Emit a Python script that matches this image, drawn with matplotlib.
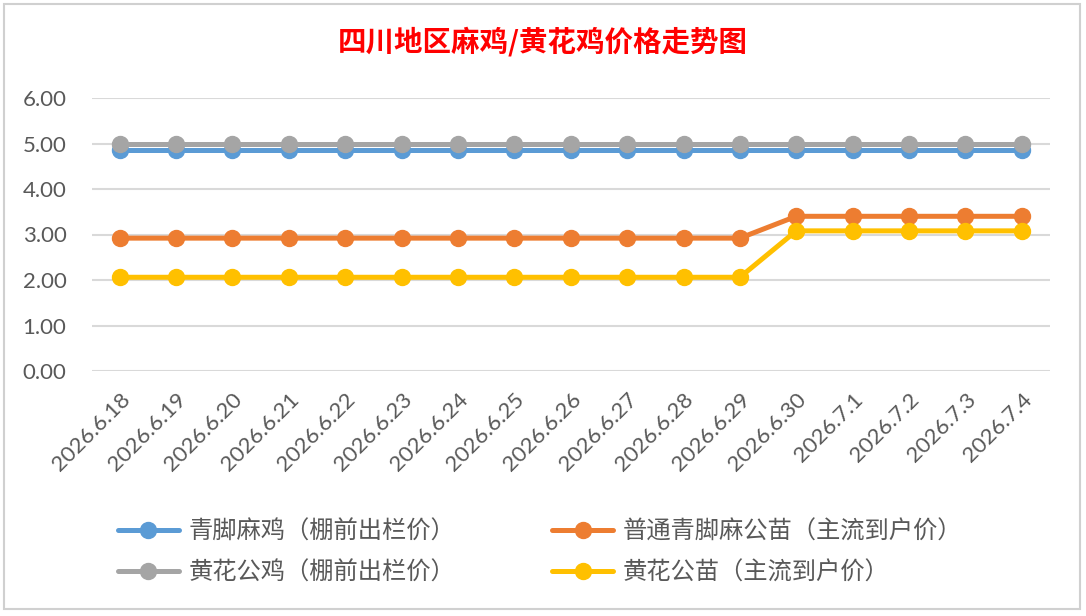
import matplotlib
matplotlib.use("Agg")
import matplotlib.pyplot as plt
from matplotlib.patches import Rectangle

dates = ["2026.6.18", "2026.6.19", "2026.6.20", "2026.6.21", "2026.6.22", "2026.6.23",
         "2026.6.24", "2026.6.25", "2026.6.26", "2026.6.27", "2026.6.28", "2026.6.29",
         "2026.6.30", "2026.7.1", "2026.7.2", "2026.7.3", "2026.7.4"]

qingjiao_ma = [4.85] * 17
putong_miao = [2.92] * 12 + [3.40] * 5
huanghua_gong = [5.00] * 17
huanghua_miao = [2.06] * 12 + [3.08] * 5

names = ["青脚麻鸡（棚前出栏价）", "普通青脚麻公苗（主流到户价）",
         "黄花公鸡（棚前出栏价）", "黄花公苗（主流到户价）"]
colors = ["#5B9BD5", "#ED7D31", "#A5A5A5", "#FFC000"]

cjk = ["Noto Sans CJK SC", "DejaVu Sans"]
num_font = ["Lato", "Noto Sans CJK SC", "DejaVu Sans"]
tick_col = "#595959"

fig = plt.figure(figsize=(10.86, 6.16), dpi=100)
fig.patches.append(Rectangle((4 / 1086, 1 - 609 / 616), 1076 / 1086, 605 / 616,
                             transform=fig.transFigure, fill=False,
                             edgecolor="#D0D0D0", linewidth=1.5))

ax = fig.add_axes([91.5 / 1086, 1 - 371 / 616, 958.5 / 1086, 273 / 616])
x = list(range(len(dates)))

series = [qingjiao_ma, putong_miao, huanghua_gong, huanghua_miao]
for vals, name, c in zip(series, names, colors):
    ax.plot(x, vals, color=c, lw=3.6, marker="o", ms=11.5, label=name,
            solid_capstyle="round", clip_on=False)

ax.set_xlim(-0.5, len(dates) - 0.5)
ax.set_ylim(0, 6)
ax.set_yticks([0, 1, 2, 3, 4, 5, 6])
ax.set_yticklabels([f"{v:.2f}" for v in range(7)], family=num_font,
                   fontsize=16, color=tick_col)
ax.set_xticks(x)
ax.set_xticklabels(dates, rotation=45, ha="right", va="top", rotation_mode="anchor",
                   family=num_font, fontsize=16, color=tick_col)
ax.tick_params(axis="both", length=0)
ax.tick_params(axis="y", pad=18)
ax.tick_params(axis="x", pad=13)
ax.yaxis.grid(True, color="#D9D9D9", lw=1.5)
ax.set_axisbelow(True)
for s in ax.spines.values():
    s.set_visible(False)

fig.text(0.5, 1 - 42 / 616, "四川地区麻鸡/黄花鸡价格走势图", ha="center", va="center",
         color="#FF0000", fontsize=20.5, fontweight="bold", family=cjk)

# legend order: row-wise like excel
h, l = ax.get_legend_handles_labels()
order = [0, 2, 1, 3]
fig.legend([h[i] for i in order], [l[i] for i in order], ncol=2, frameon=False,
           loc="upper left", bbox_to_anchor=(118 / 1086, 1 - 519 / 616),
           prop={"family": cjk, "size": 17.5}, handlelength=2.5, handletextpad=0.4,
           labelspacing=0.6, columnspacing=4.0, labelcolor=tick_col,
           borderaxespad=0, borderpad=0)

fig.savefig("out.png", dpi=100)
